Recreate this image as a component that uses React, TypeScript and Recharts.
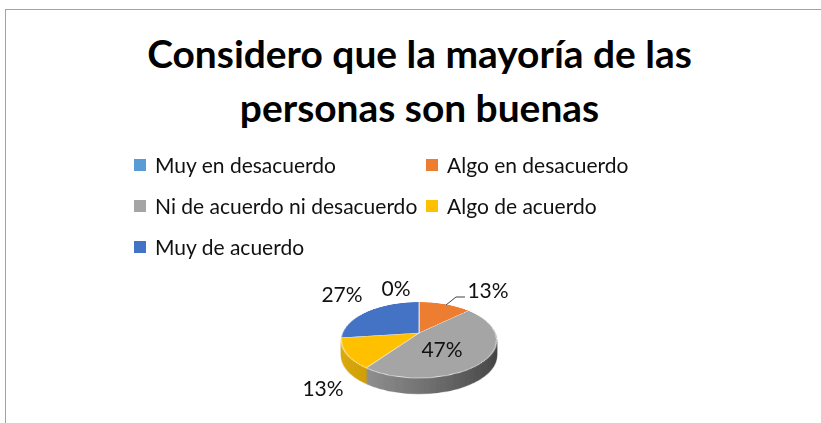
import { PieChart, Pie, Cell, Legend } from "recharts";

const categories = ["Muy en desacuerdo", "Algo en desacuerdo", "Ni de acuerdo ni desacuerdo", "Algo de acuerdo", "Muy de acuerdo"];
const values = [0, 13, 47, 13, 27];
const colors = ["#5b9bd5", "#ed7d31", "#a5a5a5", "#ffc000", "#4472c4"];
const sideColors = ["#3f6f9c", "#a85822", "url(#sideGray)", "url(#sideYellow)", "#2f5090"];
const titleLines = ["Considero que la mayoría de las", "personas son buenas"];

// where each percent text sits, relative to the pie centre
const labelOffsets = [
  { dx: -23, dy: -46 },
  { dx: 69, dy: -44 },
  { dx: 23, dy: 15 },
  { dx: -96, dy: 54 },
  { dx: -77, dy: -40 },
];

const rows = categories.map((name, i) => ({ name, value: values[i], fill: colors[i] }));

const FONT = "Lato, Carlito, sans-serif";
const CENTER_X = 419;
const CENTER_Y = 333;
const BOX = 200;
const RADIUS = 76.5;
const DEPTH = 16;
const depthSteps = Array.from({ length: DEPTH }, (_, i) => DEPTH - i);

function PieLayer({ fills, offset, stroke }: { fills: string[]; offset: number; stroke?: string }) {
  return (
    <div
      style={{
        position: "absolute",
        left: CENTER_X - BOX / 2,
        top: CENTER_Y - BOX / 2,
        width: BOX,
        height: BOX,
        transformOrigin: "50% 50%",
        transform: `translateY(${offset}px) perspective(364px) rotateX(61.3deg)`,
      }}
    >
      <PieChart width={BOX} height={BOX} margin={{ top: 0, right: 0, bottom: 0, left: 0 }}>
        <defs>
          <linearGradient id="sideGray" x1="0" y1="0" x2="1" y2="0">
            <stop offset="0%" stopColor="#8f8f8f" />
            <stop offset="45%" stopColor="#6e6e6e" />
            <stop offset="100%" stopColor="#404040" />
          </linearGradient>
          <linearGradient id="sideYellow" x1="0" y1="0" x2="1" y2="0">
            <stop offset="0%" stopColor="#dcaa0c" />
            <stop offset="100%" stopColor="#bd8d00" />
          </linearGradient>
        </defs>
        <Pie
          data={rows}
          dataKey="value"
          nameKey="name"
          cx="50%"
          cy="50%"
          outerRadius={RADIUS}
          startAngle={90}
          endAngle={-270}
          stroke={stroke ?? "none"}
          strokeWidth={stroke ? 0.8 : 0}
          label={false}
          labelLine={false}
          isAnimationActive={false}
        >
          {rows.map((r, i) => (
            <Cell key={r.name} fill={fills[i]} />
          ))}
        </Pie>
      </PieChart>
    </div>
  );
}

function renderLabel(props: any) {
  const { index, cx, cy, percent } = props;
  const place = labelOffsets[index];
  return (
    <g key={index}>
      {index === 1 && (
        <polyline
          points={`${cx + 27},${cy - 28} ${cx + 37},${cy - 36} ${cx + 46},${cy - 36}`}
          fill="none"
          stroke="#404040"
          strokeWidth={1}
        />
      )}
      <text
        x={cx + place.dx}
        y={cy + place.dy}
        textAnchor="middle"
        dominantBaseline="central"
        fontFamily={FONT}
        fontSize={21}
        fill="#111"
      >
        {`${Math.round(percent * 100)}%`}
      </text>
    </g>
  );
}

function renderLegend() {
  return (
    <div
      style={{
        display: "grid",
        gridTemplateColumns: "292px 250px",
        gridAutoRows: "41px",
        fontFamily: FONT,
        fontSize: 21,
        color: "#111",
      }}
    >
      {rows.map((r) => (
        <div key={r.name} style={{ display: "flex", alignItems: "center", whiteSpace: "nowrap" }}>
          <span style={{ width: 12, height: 12, background: r.fill, marginRight: 9, flex: "none" }} />
          {r.name}
        </div>
      ))}
    </div>
  );
}

export default function App() {
  return (
    <div
      style={{
        position: "absolute",
        left: 0,
        top: 0,
        width: 821,
        height: 423,
        overflow: "hidden",
        background: "#fff",
      }}
    >
      <div style={{ position: "absolute", left: 5, top: 9, right: 0, bottom: 0, borderTop: "1px solid #a3a3a3", borderLeft: "1px solid #a3a3a3" }} />
      <div
        style={{
          position: "absolute",
          left: 0,
          top: 26,
          width: 839,
          textAlign: "center",
          fontFamily: FONT,
          fontWeight: 700,
          fontSize: 38.9,
          lineHeight: "54px",
          color: "#000",
        }}
      >
        {titleLines.map((t) => (
          <div key={t}>{t}</div>
        ))}
      </div>
      {depthSteps.map((d) => (
        <PieLayer key={d} fills={sideColors} offset={d} />
      ))}
      <PieLayer fills={colors} offset={0} stroke="#ffffff" />
      <div style={{ position: "absolute", left: 0, top: 0 }}>
        <PieChart width={821} height={423} margin={{ top: 0, right: 0, bottom: 0, left: 0 }}>
          <Pie
            data={rows}
            dataKey="value"
            nameKey="name"
            cx={CENTER_X}
            cy={CENTER_Y}
            outerRadius={RADIUS}
            startAngle={90}
            endAngle={-270}
            fill="none"
            stroke="none"
            label={renderLabel}
            labelLine={false}
            isAnimationActive={false}
          >
            {rows.map((r) => (
              <Cell key={r.name} fill="transparent" />
            ))}
          </Pie>
          <Legend
            content={renderLegend}
            wrapperStyle={{ position: "absolute", left: 134, top: 144, width: 560, bottom: "auto" }}
          />
        </PieChart>
      </div>
    </div>
  );
}
